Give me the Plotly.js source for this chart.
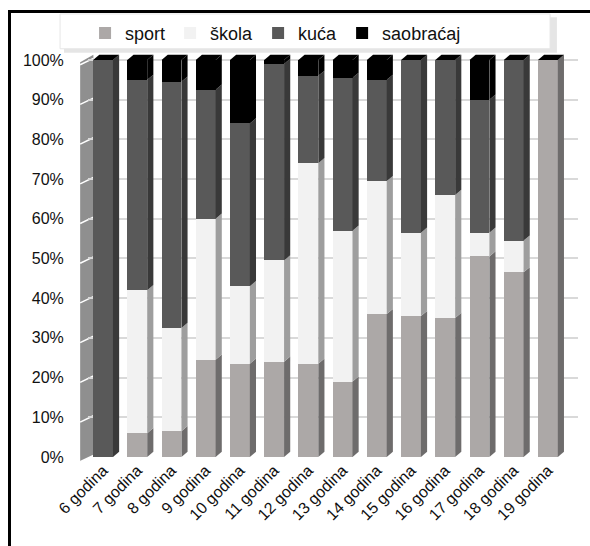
<!DOCTYPE html>
<html>
<head>
<meta charset="utf-8">
<script src="https://cdn.plot.ly/plotly-3.0.1.min.js"></script>
<style>
html,body{margin:0;padding:0;background:#fff;overflow:hidden;}
#wrap{position:relative;width:590px;height:546px;}
#chart{width:590px;height:546px;}
#frame{position:absolute;left:8px;top:10px;width:700px;height:700px;border-left:3px solid #000;border-top:3px solid #000;pointer-events:none;}
</style>
</head>
<body>
<div id="wrap"><div id="chart"></div><div id="frame"></div></div>
<script>
const categories = ['6 godina','7 godina','8 godina','9 godina','10 godina','11 godina','12 godina','13 godina','14 godina','15 godina','16 godina','17 godina','18 godina','19 godina'];
const sport     = [0, 6, 6.5, 24.5, 23.5, 24, 23.5, 19, 36, 35.5, 35, 50.5, 46.5, 100];
const skola     = [0, 36, 26, 35.5, 19.5, 25.5, 50.5, 38, 33.5, 21, 31, 6, 8, 0];
const kuca      = [100, 53, 62, 32.5, 41, 49.5, 22, 38.5, 25.5, 43.5, 34, 33.5, 45.5, 0];
const saobracaj = [0, 5, 5.5, 7.5, 16, 1, 4, 4.5, 5, 0, 0, 10, 0, 0];
const yTicks = [0,10,20,30,40,50,60,70,80,90,100];

const seriesNames = ['sport','škola','kuća','saobraćaj'];
const seriesData = [sport, skola, kuca, saobracaj];
const frontColors = ['#aca8a7','#f2f2f2','#595959','#000000'];
const sideColors  = ['#6e6c6c','#9e9e9e','#393939','#000000'];

const xIdx = categories.map((c,i)=>i);
const W = 0.58, DX = 0.18, DY = 1.3, YMAX = 102;

const traces = seriesData.map((vals,k)=>({
  type:'bar', name:seriesNames[k], x:xIdx, y:vals, width:W,
  marker:{color:frontColors[k], line:{width:0}}, hoverinfo:'skip'
}));

const shapes = [];
// legend box with soft shadow
shapes.push({type:'rect', xref:'paper', yref:'paper', layer:'above', line:{width:0}, fillcolor:'rgba(0,0,0,0.10)',
  x0:-0.049, x1:0.957, y0:0.998, y1:1.086});
shapes.push({type:'rect', xref:'paper', yref:'paper', layer:'above', line:{width:1, color:'#e6e6e6'}, fillcolor:'#ffffff',
  x0:-0.057, x1:0.943, y0:1.008, y1:1.094});
// left wall
const yp = v => v/YMAX;
const wl = -0.016, wr = 0.011;
shapes.push({type:'path', xref:'paper', yref:'paper', layer:'below', line:{width:0}, fillcolor:'#8f8f8f',
  path:`M ${wl} ${yp(-1.2)} L ${wr} ${yp(0.4)} L ${wr} ${yp(100+DY)} L ${wl} ${yp(99.4)} Z`});
yTicks.forEach(g=>{
  shapes.push({type:'line', xref:'paper', yref:'paper', layer:'below', line:{color:'#ffffff', width:1.5},
    x0:wl, y0:yp(g-1.2), x1:wr, y1:yp(g+0.4)});
});
// side and top faces
xIdx.forEach(i=>{
  let base = 0;
  seriesData.forEach((vals,k)=>{
    const v = vals[i];
    if (v > 0) {
      const xa = i + W/2, xb = xa + DX;
      shapes.push({type:'path', xref:'x', yref:'y', line:{width:0}, fillcolor:sideColors[k],
        path:`M ${xa} ${base} L ${xb} ${base+DY} L ${xb} ${base+v+DY} L ${xa} ${base+v} Z`});
    }
    base += v;
  });
  shapes.push({type:'path', xref:'x', yref:'y', line:{width:0}, fillcolor:'#000000',
    path:`M ${i-W/2} ${base} L ${i+W/2} ${base} L ${i+W/2+DX} ${base+DY} L ${i-W/2+DX} ${base+DY} Z`});
});

const layout = {
  width:590, height:546,
  margin:{l:88, r:12, t:52, b:89},
  paper_bgcolor:'#ffffff', plot_bgcolor:'#ffffff',
  barmode:'stack',
  font:{family:'"Liberation Sans", Arial, sans-serif', color:'#222'},
  showlegend:true,
  legend:{orientation:'h', x:-0.006, xanchor:'left', y:1.092, yanchor:'top',
    bgcolor:'rgba(0,0,0,0)', borderwidth:0,
    font:{size:18, color:'#111'}, traceorder:'normal', itemwidth:30},
  xaxis:{range:[-0.44, 13.88], tickmode:'array', tickvals:xIdx, ticktext:categories,
    tickangle:-45, tickfont:{size:16, color:'#111'}, ticks:'', 
    showgrid:false, zeroline:false, showline:false, fixedrange:true},
  yaxis:{range:[0, YMAX], tickmode:'array', tickvals:yTicks, ticktext:yTicks.map(v=>v+'%'),
    tickfont:{size:16, color:'#111'}, ticks:'outside', ticklen:20, tickcolor:'rgba(0,0,0,0)',
    showgrid:true, gridcolor:'#d9d9d9', gridwidth:2, zeroline:false, showline:false, fixedrange:true},
  shapes:shapes
};

Plotly.newPlot('chart', traces, layout, {displayModeBar:false, staticPlot:true});
</script>
</body>
</html>
